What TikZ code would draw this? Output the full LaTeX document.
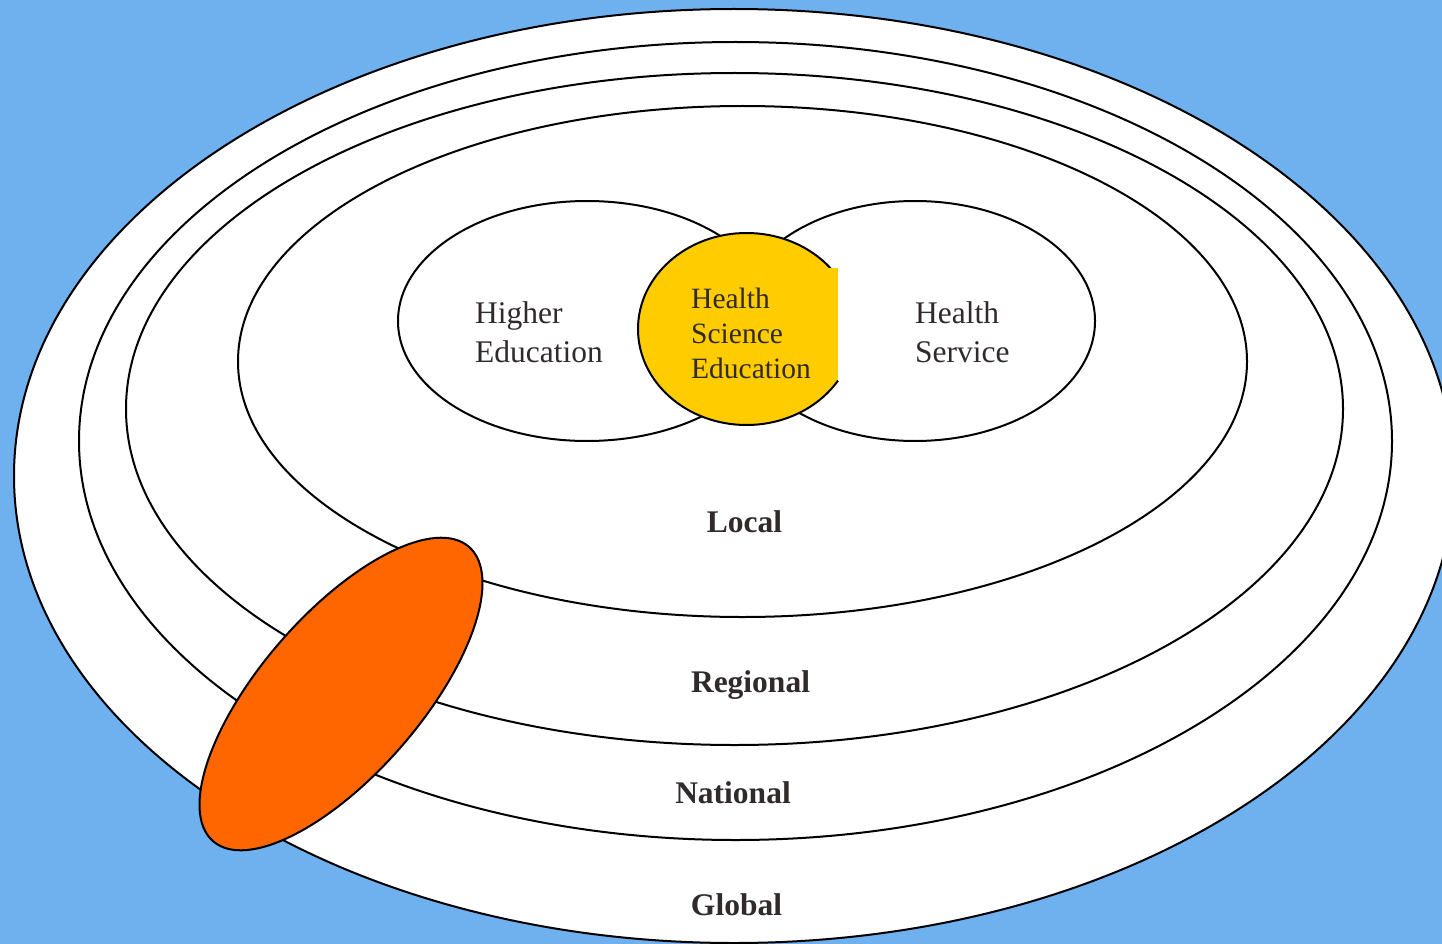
\documentclass[tikz,border=0pt]{standalone}
\usepackage{fontspec}
\setmainfont{Liberation Serif}
\usetikzlibrary{shapes.geometric}
\definecolor{bgblue}{RGB}{111,176,238}
\definecolor{hsyellow}{RGB}{255,204,0}
\definecolor{orng}{RGB}{255,102,0}
\definecolor{txt}{RGB}{48,42,42}
\tikzset{
  ring/.style={ellipse, draw=black, fill=white, line width=2pt, inner sep=0pt, outer sep=0pt},
  lbl/.style={text=txt, font=\fontsize{31.5}{39}\selectfont\bfseries, anchor=base, inner sep=0pt},
  body/.style={text=txt, font=\fontsize{31.5}{39}\selectfont, anchor=base west, align=left, inner sep=0pt},
}
\begin{document}
\begin{tikzpicture}[x=1pt,y=-1pt]
\useasboundingbox (0,0) rectangle (1442,944);
\clip (0,0) rectangle (1442,944);
\fill[bgblue] (0,0) rectangle (1442,944);
% rings
\node[ring, minimum width=1440pt, minimum height=934pt] (global) at (734,476) {};
\node[ring, minimum width=1313pt, minimum height=798pt] (national) at (735.5,441) {};
\node[ring, minimum width=1217pt, minimum height=672pt] (regional) at (734.5,409) {};
\node[ring, minimum width=1009pt, minimum height=511pt] (local) at (742.5,361.5) {};
% sectors
\node[ring, minimum width=378pt, minimum height=240pt] (higher) at (587,321) {};
\node[ring, minimum width=360pt, minimum height=240pt] (service) at (915,321) {};
\node[ring, fill=hsyellow, minimum width=217pt, minimum height=192pt] (hse) at (746.5,329) {};
\fill[white] (838,266) rectangle (862,381);
\fill[hsyellow] (800,268) rectangle (838,380);
% orange ellipse
\node[ring, fill=orng, minimum width=390pt, minimum height=160pt, rotate=49] (span) at (341,694) {};
% texts
\node[body] (tHigher) at (475,362) {Higher\\Education};
\node[body, font=\fontsize{29.5}{35}\selectfont] (tHSE) at (691,378) {Health\\Science\\Education};
\node[body] (tService) at (915,362) {Health\\Service};
\node[lbl] (tLocal) at (744.5,532) {Local};
\node[lbl] (tRegional) at (750.5,692) {Regional};
\node[lbl] (tNational) at (733,803) {National};
\node[lbl] (tGlobal) at (736.5,915) {Global};
\end{tikzpicture}
\end{document}
